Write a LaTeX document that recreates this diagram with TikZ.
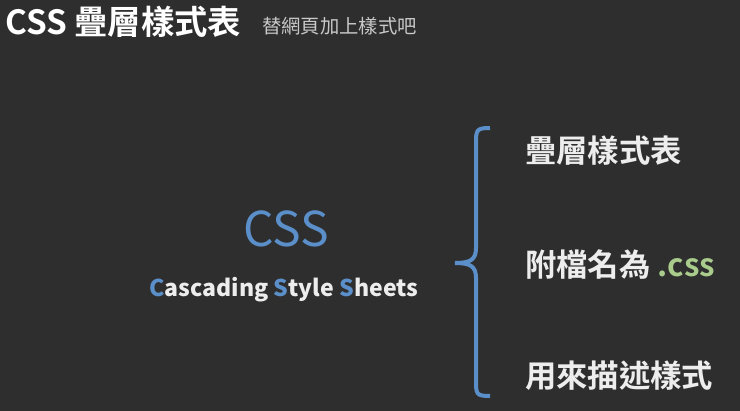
\documentclass[tikz,border=0pt]{standalone}
\usepackage{fontspec}
\setmainfont{Noto Sans CJK TC}
\newfontfamily\cjkb{Noto Sans CJK TC}[BoldFont=* Bold]
\definecolor{bg}{HTML}{2E2E2E}
\definecolor{cssblue}{HTML}{5B8FC9}
\definecolor{cgreen}{HTML}{A9CB8B}
\definecolor{txt}{HTML}{EDEDED}
\definecolor{sub}{HTML}{C8C8C8}
\tikzset{lbl/.style={anchor=west,inner sep=0pt,text=txt,font=\cjkb\bfseries\fontsize{23.5}{23.5}\selectfont}}
\begin{document}
\begin{tikzpicture}[x=0.75pt,y=-0.75pt]
\fill[bg] (0,0) rectangle (740,411);
\node[anchor=west,inner sep=0pt,text=white,font=\cjkb\bfseries\fontsize{25}{25}\selectfont] (title) at (5,22) {CSS 疊層樣式表};
\node[anchor=west,inner sep=0pt,text=sub,font=\cjkb\fontsize{14.5}{14.5}\selectfont] (subt) at (262,26) {替網頁加上樣式吧};
\node[inner sep=0pt,text=cssblue,font=\fontsize{36}{36}\selectfont] (css) at (286,229) {CSS};
\node[inner sep=0pt,text=txt,font=\bfseries\fontsize{17.3}{17.3}\selectfont] (full) at (284,290) {\textcolor{cssblue}{C}ascading \textcolor{cssblue}{S}tyle \textcolor{cssblue}{S}heets};
\coordinate (btop) at (490,128);
\coordinate (bbot) at (490,396);
\draw[cssblue,line width=3pt] (btop) .. controls (476,128) and (476,130) .. (476,145) -- (476,248) .. controls (476,260) and (470,263) .. (455,263) .. controls (470,263) and (476,266) .. (476,278) -- (476,380) .. controls (476,394) and (476,396) .. (bbot);
\node[lbl] (l1) at (525,151) {疊層樣式表};
\node[lbl] (l2) at (525,265) {附檔名為 \textcolor{cgreen}{.css}};
\node[lbl] (l3) at (525,376) {用來描述樣式};
\end{tikzpicture}
\end{document}
